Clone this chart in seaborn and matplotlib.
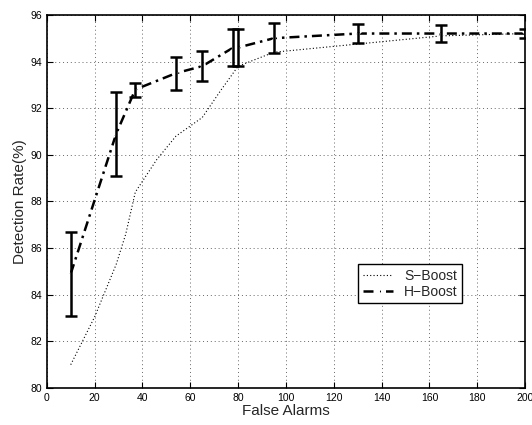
import numpy as np
import pandas as pd
import seaborn as sns
import matplotlib.pyplot as plt

s_alarms = [10, 20, 29, 33, 37, 46, 54, 65, 73, 80, 95, 130, 165, 200]
s_rate = [81.0, 83.05, 85.3, 86.6, 88.4, 89.8, 90.8, 91.6, 92.8, 93.8, 94.4, 94.75, 95.1, 95.2]

h_alarms = [10, 29, 37, 54, 65, 78, 80, 95, 130, 165, 200]
h_rate = [84.9, 90.9, 92.8, 93.5, 93.8, 94.6, 94.6, 95.0, 95.2, 95.2, 95.2]
h_err = [1.8, 1.8, 0.3, 0.7, 0.65, 0.8, 0.8, 0.65, 0.42, 0.37, 0.2]

sns.set_style("ticks")
plt.rcParams['font.family'] = ['Liberation Sans', 'DejaVu Sans']

df_s = pd.DataFrame({"alarms": s_alarms, "rate": s_rate})
df_h = pd.DataFrame({"alarms": h_alarms, "rate": h_rate})

fig, ax = plt.subplots(figsize=(5.32, 4.25), dpi=100)
fig.subplots_adjust(left=0.088, right=0.987, top=0.965, bottom=0.087)

sns.lineplot(data=df_s, x="alarms", y="rate", ax=ax, color="black",
             linestyle=(0, (1, 2)), linewidth=0.8, label="S\u2212Boost")
sns.lineplot(data=df_h, x="alarms", y="rate", ax=ax, color="black",
             linestyle=(0, (4, 2, 1, 2)), linewidth=1.8, marker="x", markersize=4,
             markeredgewidth=1, label="H\u2212Boost")
ax.errorbar(h_alarms, h_rate, yerr=h_err, fmt="none", ecolor="black",
            elinewidth=1.8, capsize=4, capthick=1.8)

ax.set_xlim(0, 200)
ax.set_ylim(80, 96)
ax.set_xticks(np.arange(0, 201, 20))
ax.set_yticks(np.arange(80, 97, 2))
ax.tick_params(direction="in", labelsize=7.5, top=True, right=True, length=4,
               width=0.8, colors="black")
ax.grid(True, linestyle=(0, (1, 3)), color="#666666", linewidth=0.7)
for sp in ax.spines.values():
    sp.set_linewidth(1.2)
    sp.set_color("black")
    sp.set_visible(True)

ax.set_xlabel("False Alarms", fontsize=11, labelpad=1)
ax.set_ylabel("Detection Rate(%)", fontsize=11, labelpad=2)

leg = ax.legend(loc="center", bbox_to_anchor=(0.76, 0.28), fontsize=10,
                frameon=True, fancybox=False, framealpha=1,
                edgecolor="black", handlelength=2.2, borderpad=0.3,
                labelspacing=0.15, handletextpad=0.8)
leg.get_frame().set_linewidth(1.0)

plt.savefig("out.png", dpi=100)
